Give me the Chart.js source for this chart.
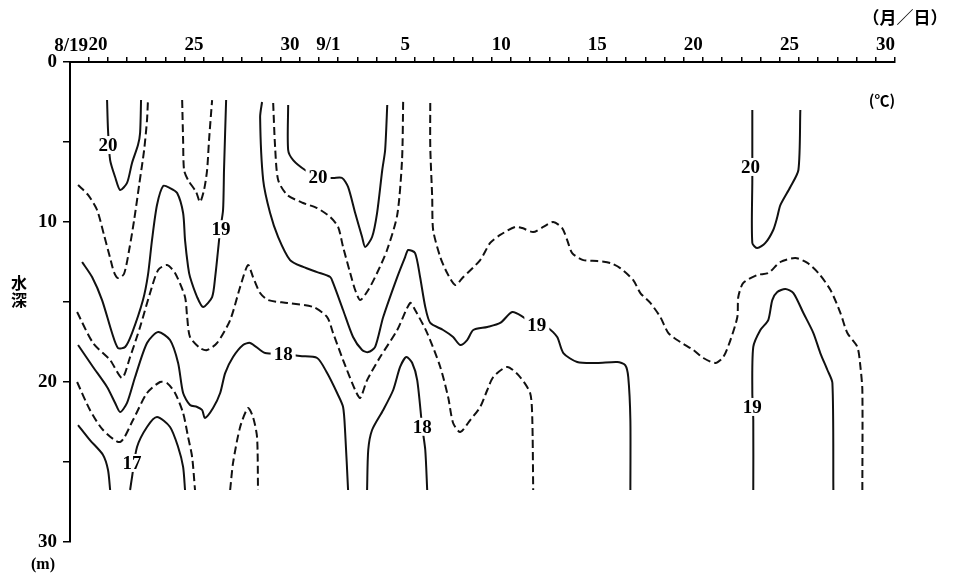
<!DOCTYPE html>
<html>
<head>
<meta charset="utf-8">
<script src="https://cdn.jsdelivr.net/npm/chart.js@4/dist/chart.umd.min.js"></script>
<style>
  body { margin: 0; background: #fff; }
  canvas { display: block; }
</style>
</head>
<body>
<canvas id="isoChart" width="957" height="573"></canvas>
<script>
// x = day counted from Aug 1 (Sep d = 31 + d), y = depth (m)
const tickDays = [20, 25, 30, 32, 36, 41, 46, 51, 56, 61];
const tickText = ["20", "25", "30", "9/1", "5", "10", "15", "20", "25", "30"];
const depthTicks = [0, 5, 10, 15, 20, 25, 30];
const depthLabels = [0, 10, 20, 30];

// isotherms, solid = whole degrees
const iso20a = [[20.47,2.38],[20.52,4.25],[20.63,6.13],[20.89,7.19],[21.15,8.0],[21.51,7.56],[21.77,6.31],[22.08,5.19],[22.19,4.44],[22.24,2.38]];
const iso20b = [[29.90,2.69],[29.90,5.5],[30.16,6.13],[30.78,6.75],[31.46,7.19],[32.24,7.25],[32.71,7.25],[33.02,7.81],[33.39,9.44],[33.75,10.94],[33.91,11.56],[34.27,10.94],[34.53,9.44],[34.80,6.75],[34.95,5.5],[35.06,2.69]];
const iso20c = [[54.07,3.0],[54.07,5.94],[54.07,7.38],[54.07,11.31],[54.33,11.63],[54.75,11.31],[55.16,10.5],[55.37,9.69],[55.53,8.94],[56.05,7.81],[56.47,6.75],[56.57,3.0]];
const iso19a = [[19.17,12.5],[19.69,13.44],[20.21,14.88],[20.73,16.94],[21.04,17.88],[21.41,17.81],[21.77,16.94],[22.34,14.88],[22.60,13.31],[22.81,11.13],[23.07,8.94],[23.39,7.75],[23.75,7.88],[24.12,8.19],[24.43,9.44],[24.53,11.13],[24.69,12.81],[24.79,13.44],[25.16,14.69],[25.47,15.31],[25.94,14.69],[26.10,13.44],[26.25,11.75],[26.36,10.5],[26.51,9.25],[26.56,6.75],[26.67,2.38]];
const iso19b = [[28.54,2.5],[28.44,3.44],[28.60,7.38],[28.96,9.44],[29.38,10.94],[30.0,12.38],[30.68,12.81],[31.41,13.13],[32.09,13.44],[32.24,13.81],[32.76,15.5],[33.28,17.19],[33.75,18.0],[34.07,18.13],[34.43,17.81],[34.85,15.94],[35.58,13.44],[35.99,12.19],[36.15,11.75],[36.51,11.94],[36.77,13.44],[37.04,15.31],[37.30,16.31],[37.97,16.75],[38.49,17.19],[38.86,17.69],[39.22,17.38],[39.54,16.75],[40.27,16.56],[40.94,16.31],[41.57,15.63],[42.14,15.94],[42.77,16.44],[43.44,16.63],[43.91,17.19],[44.23,18.19],[44.95,18.75],[45.99,18.81],[47.04,18.75],[47.45,18.94],[47.61,19.69],[47.72,22.38],[47.72,26.75]];
const iso19c = [[54.12,26.75],[54.12,22.38],[54.07,20.69],[54.12,17.81],[54.49,16.75],[54.90,16.13],[55.11,14.88],[55.37,14.38],[55.79,14.19],[56.21,14.44],[56.73,15.69],[57.25,16.94],[57.61,18.19],[57.98,19.25],[58.24,20.06],[58.29,26.75]];
const iso18a = [[18.96,17.69],[19.74,19.06],[20.47,20.31],[20.89,21.31],[21.15,21.88],[21.51,21.31],[21.93,19.69],[22.55,17.56],[23.13,16.88],[23.75,17.38],[24.17,18.81],[24.43,20.69],[24.79,21.44],[25.16,21.56],[25.42,21.75],[25.57,22.25],[25.99,21.63],[26.36,20.69],[26.62,19.44],[27.03,18.44],[27.55,17.69],[27.92,17.56],[28.44,18.0],[28.70,18.19],[29.64,18.25],[30.52,18.38],[31.41,18.5],[31.93,19.44],[32.45,20.69],[32.76,21.56],[32.87,23.19],[33.02,26.75]];
const iso18b = [[34.01,26.75],[34.07,24.25],[34.27,23.0],[34.85,21.75],[35.37,20.5],[35.73,19.06],[36.05,18.44],[36.36,18.81],[36.62,19.88],[36.88,22.81],[37.04,24.25],[37.14,26.75]];
const iso17a = [[18.96,22.69],[19.58,23.63],[20.26,24.56],[20.52,25.5],[20.63,26.75]];
const iso17b = [[21.67,26.75],[21.77,25.94],[22.03,24.06],[22.55,22.81],[23.07,22.19],[23.75,22.81],[24.17,24.06],[24.43,25.31],[24.53,26.75]];

// isotherms, dashed = half degrees
const iso195a = [[18.96,7.69],[19.48,8.31],[19.95,9.25],[20.31,10.81],[20.63,12.25],[20.83,13.13],[21.04,13.5],[21.35,13.25],[21.62,11.75],[21.88,9.88],[22.14,7.69],[22.40,5.5],[22.55,3.63],[22.60,2.38]];
const iso195b = [[24.38,2.38],[24.43,4.88],[24.48,6.75],[24.69,7.38],[25.11,8.13],[25.31,8.75],[25.52,8.0],[25.68,6.75],[25.78,4.88],[25.94,2.38]];
const iso195c = [[29.12,2.56],[29.22,5.31],[29.38,7.38],[29.85,8.31],[30.68,8.81],[31.41,9.13],[32.09,9.69],[32.50,10.31],[32.76,11.56],[33.13,13.19],[33.39,14.25],[33.65,14.88],[34.07,14.25],[34.53,13.19],[35.05,11.75],[35.58,9.56],[35.83,6.13],[35.89,2.38]];
const iso195d = [[37.30,2.56],[37.30,5.31],[37.40,8.44],[37.45,10.5],[37.82,12.19],[38.18,13.19],[38.60,13.94],[39.02,13.44],[39.90,12.38],[40.42,11.31],[40.94,10.81],[41.72,10.31],[42.09,10.38],[42.66,10.63],[43.18,10.31],[43.70,10.0],[44.17,10.38],[44.43,11.13],[44.69,11.94],[45.27,12.38],[46.0,12.44],[46.67,12.56],[47.19,12.88],[47.87,13.63],[48.24,14.44],[48.76,15.06],[49.28,15.94],[49.70,16.94],[50.32,17.5],[51.0,18.0],[51.52,18.5],[52.15,18.81],[52.56,18.44],[52.93,17.38],[53.29,15.94],[53.34,14.69],[53.60,13.81],[54.33,13.31],[54.90,13.19],[55.53,12.5],[56.31,12.25],[56.94,12.56],[57.51,13.19],[58.14,14.25],[58.66,15.69],[59.02,16.94],[59.54,17.81],[59.70,19.06],[59.80,20.5],[59.80,26.75]];
const iso185a = [[18.91,15.63],[19.74,17.56],[20.63,18.63],[21.25,19.75],[21.67,18.44],[22.19,16.56],[22.71,14.44],[23.13,13.0],[23.59,12.69],[24.01,13.19],[24.53,14.69],[24.64,15.94],[24.79,17.19],[25.31,17.88],[25.68,18.0],[26.20,17.56],[26.88,16.13],[27.40,14.06],[27.81,12.69],[28.07,13.44],[28.44,14.44],[28.86,14.88],[29.85,15.06],[31.20,15.31],[31.93,15.94],[32.24,16.94],[32.76,18.63],[33.39,20.5],[33.65,21.0],[34.01,19.88],[34.69,18.44],[35.58,16.75],[36.25,15.06],[36.51,15.5],[37.14,16.94],[37.82,19.06],[38.23,20.94],[38.49,22.56],[38.86,23.13],[39.38,22.38],[39.90,21.56],[40.27,20.5],[40.58,19.69],[41.31,19.06],[41.98,19.69],[42.50,20.69],[42.61,22.19],[42.66,26.75]];
const iso175a = [[18.91,20.0],[19.58,21.75],[20.26,23.0],[21.15,23.75],[21.82,22.38],[22.55,20.69],[23.23,20.0],[23.59,20.06],[24.01,20.69],[24.43,21.94],[24.69,23.44],[24.90,24.69],[25.05,26.75]];
const iso175b = [[26.88,26.75],[27.03,25.06],[27.40,22.81],[27.81,21.63],[28.07,22.19],[28.28,23.44],[28.33,26.75]];

// contour labels
const isoLabels = ["20", "19", "20", "18", "17", "18", "19", "20", "19"];
const isoLabelPos = [[20.52,5.19],[26.40,10.45],[31.46,7.19],[29.64,18.25],[21.77,25.06],[36.88,22.8],[42.85,16.44],[53.97,6.56],[54.07,21.56]];

const solidLines = [iso20a, iso20b, iso20c, iso19a, iso19b, iso19c, iso18a, iso18b, iso17a, iso17b];
const dashedLines = [iso195a, iso195b, iso195c, iso195d, iso185a, iso175a, iso175b];

const toPoints = arr => arr.map(p => ({ x: p[0], y: p[1] }));
const datasets = [];
solidLines.forEach(l => datasets.push({ data: toPoints(l), borderColor: "#111", borderWidth: 2, showLine: true, pointRadius: 0, tension: 0.25 }));
dashedLines.forEach(l => datasets.push({ data: toPoints(l), borderColor: "#111", borderWidth: 2, borderDash: [8, 4], showLine: true, pointRadius: 0, tension: 0.25 }));

const serif = '"Liberation Serif", "DejaVu Serif", serif';
const cjk = '"Noto Sans CJK JP", "Noto Sans CJK SC", sans-serif';

const annotate = {
  id: "annotate",
  beforeDraw(chart) {
    const ctx = chart.ctx;
    ctx.save();
    ctx.fillStyle = "#fff";
    ctx.fillRect(0, 0, chart.width, chart.height);
    ctx.restore();
  },
  afterDatasetsDraw(chart) {
    const { ctx, scales: { x, y } } = chart;
    ctx.save();
    ctx.font = "bold 19px " + serif;
    ctx.textAlign = "center";
    ctx.textBaseline = "middle";
    isoLabels.forEach((t, i) => {
      const px = x.getPixelForValue(isoLabelPos[i][0]);
      const py = y.getPixelForValue(isoLabelPos[i][1]);
      const w = ctx.measureText(t).width;
      ctx.fillStyle = "#fff";
      ctx.fillRect(px - w / 2 - 3, py - 9, w + 6, 18);
      ctx.fillStyle = "#000";
      ctx.fillText(t, px, py + 1);
    });
    ctx.restore();
  },
  afterDraw(chart) {
    const { ctx, scales: { x } } = chart;
    ctx.save();
    ctx.fillStyle = "#000";
    ctx.textBaseline = "middle";
    ctx.font = "bold 19px " + serif;
    ctx.textAlign = "right";
    ctx.fillText("8/19", x.getPixelForValue(20) - 10, 46);
    ctx.textAlign = "center";
    ctx.font = "bold 17px " + cjk;
    ctx.fillText("（月／日）", 905, 18);
    ctx.font = "bold 16px " + cjk;
    ctx.fillText("水", 19, 283);
    ctx.fillText("深", 19, 300);
    ctx.font = "bold 15px " + cjk;
    ctx.fillText("(℃)", 882, 100);
    ctx.font = "bold 16px " + serif;
    ctx.fillText("(m)", 43, 565);
    ctx.restore();
  }
};

new Chart(document.getElementById("isoChart").getContext("2d"), {
  type: "scatter",
  data: { datasets: datasets },
  options: {
    responsive: false,
    animation: false,
    events: [],
    layout: { padding: { top: 30, right: 62, bottom: 31, left: 0 } },
    plugins: { legend: { display: false }, tooltip: { enabled: false } },
    scales: {
      x: {
        type: "linear",
        position: "top",
        min: 18.54,
        max: 61.5,
        afterBuildTicks: s => { s.ticks = []; for (let d = 19; d <= 61; d++) s.ticks.push({ value: d }); },
        afterFit: s => { s.height = 32; },
        grid: { offset: true, drawOnChartArea: false, tickLength: 5, color: "#000", lineWidth: 1.5 },
        border: { color: "#000", width: 2 },
        ticks: {
          autoSkip: false, maxRotation: 0, padding: 1, color: "#000",
          font: { family: serif, size: 19, weight: "bold" },
          callback: v => { const i = tickDays.indexOf(v); return i >= 0 ? tickText[i] : ""; }
        }
      },
      y: {
        type: "linear",
        reverse: true,
        min: 0,
        max: 30,
        afterBuildTicks: s => { s.ticks = depthTicks.map(v => ({ value: v })); },
        afterFit: s => { s.width = 70; },
        grid: { drawOnChartArea: false, tickLength: 7, color: "#000", lineWidth: 1.5 },
        border: { color: "#000", width: 2 },
        ticks: {
          padding: 6, color: "#000",
          font: { family: serif, size: 19, weight: "bold" },
          callback: v => depthLabels.includes(v) ? String(v) : ""
        }
      }
    }
  },
  plugins: [annotate]
});
</script>
</body>
</html>
